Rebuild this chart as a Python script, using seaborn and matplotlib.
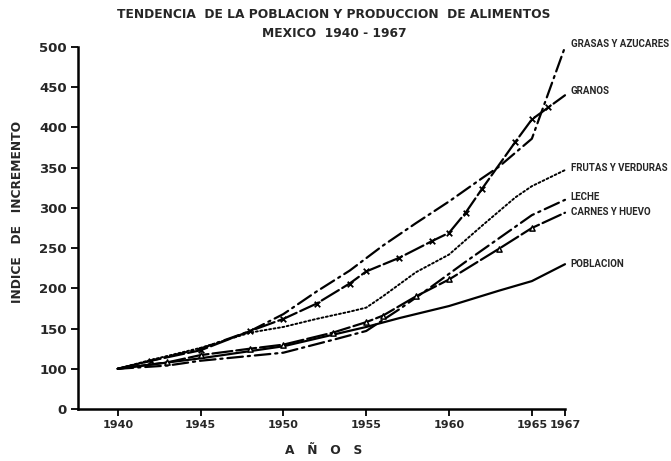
import matplotlib
matplotlib.use("Agg")
import matplotlib.pyplot as plt
import seaborn as sns
import pandas as pd

# ---- data ----
years_grasas = [1940, 1942, 1945, 1948, 1950, 1952, 1954, 1956, 1958, 1960, 1962, 1963, 1965, 1967]
vals_grasas = [100, 110, 125, 147, 168, 196, 222, 253, 281, 308, 337, 351, 386, 500]

years_granos = [1940, 1942, 1945, 1948, 1950, 1952, 1954, 1955, 1957, 1959, 1960, 1961, 1962, 1964, 1965, 1966, 1967]
vals_granos = [100, 110, 123, 147, 162, 181, 206, 221, 238, 259, 269, 294, 324, 382, 410, 425, 440]

years_frutas = [1940, 1942, 1945, 1948, 1950, 1952, 1954, 1955, 1956, 1958, 1960, 1962, 1964, 1965, 1967]
vals_frutas = [100, 111, 126, 145, 152, 162, 171, 176, 190, 220, 242, 278, 313, 327, 347]

years_leche = [1940, 1943, 1945, 1948, 1950, 1953, 1955, 1957, 1959, 1961, 1963, 1965, 1967]
vals_leche = [100, 104, 110, 116, 120, 136, 147, 174, 203, 233, 262, 291, 310]

years_carnes = [1940, 1943, 1945, 1948, 1950, 1953, 1955, 1956, 1958, 1960, 1963, 1965, 1967]
vals_carnes = [100, 108, 117, 125, 130, 145, 158, 166, 190, 211, 249, 275, 294]

years_pob = [1940, 1945, 1950, 1955, 1957, 1960, 1963, 1965, 1967]
vals_pob = [100, 113, 128, 152, 163, 178, 197, 209, 230]

series_names = ["GRASAS Y AZUCARES", "GRANOS", "FRUTAS Y VERDURAS", "LECHE", "CARNES Y HUEVO", "POBLACION"]
label_values = [504, 445, 349, 314, 295, 230]

x_ticks = [1940, 1945, 1950, 1955, 1960, 1965, 1967]
y_ticks = [50, 100, 150, 200, 250, 300, 350, 400, 450, 500]
y_tick_labels = ["0", "100", "150", "200", "250", "300", "350", "400", "450", "500"]

title_1 = "TENDENCIA  DE LA POBLACION Y PRODUCCION  DE ALIMENTOS"
title_2 = "MEXICO  1940 - 1967"
y_label = "INDICE   DE   INCREMENTO"
x_label = "A   Ñ   O   S"

# ---- styling ----
sns.set_style("ticks")
plt.rcParams["font.family"] = ["DejaVu Sans"]

fig = plt.figure(figsize=(6.71, 4.61), dpi=100)
W, H = 671, 461
ax = fig.add_axes([78 / W, 1 - 409 / H, (565 - 78) / W, (409 - 47) / H])

lw = 1.6
dashdot = (0, (7, 2.2, 1, 2.2))
longdash = (0, (9, 1.8))
line_styles = [dashdot, longdash, (0, (1, 1.3)), dashdot, longdash, "-"]
line_widths = [lw, lw, 1.4, lw, lw, lw]
all_years = [years_grasas, years_granos, years_frutas, years_leche, years_carnes, years_pob]
all_vals = [vals_grasas, vals_granos, vals_frutas, vals_leche, vals_carnes, vals_pob]

for xs, ys, ls, w in zip(all_years, all_vals, line_styles, line_widths):
    df = pd.DataFrame({"year": xs, "value": ys})
    sns.lineplot(data=df, x="year", y="value", ax=ax, color="black", linestyle=ls,
                 linewidth=w, dash_capstyle="round", clip_on=False)

# markers on granos (x) and carnes (triangles)
df_gr = pd.DataFrame({"year": years_granos[1:-1], "value": vals_granos[1:-1]})
sns.scatterplot(data=df_gr, x="year", y="value", ax=ax, marker="x", s=16,
                color="black", linewidth=1.3, zorder=5)
df_ca = pd.DataFrame({"year": years_carnes[1:-1], "value": vals_carnes[1:-1]})
sns.scatterplot(data=df_ca, x="year", y="value", ax=ax, marker="^", s=14,
                facecolor="white", edgecolor="black", linewidth=1.1, zorder=5)

for name, lv in zip(series_names, label_values):
    ax.text(1967.35, lv, name, ha="left", va="center", fontsize=7,
            fontweight="bold", family="Roboto", clip_on=False)

ax.set_xlim(1937.6, 1967)
ax.set_ylim(50, 500)
ax.set_xticks(x_ticks)
ax.set_xticklabels([str(t) for t in x_ticks], fontsize=8, fontweight="bold")
ax.set_yticks(y_ticks)
ax.set_yticklabels(y_tick_labels, fontsize=9.5, fontweight="bold")
ax.set_xlabel("")
ax.set_ylabel("")
for s in ["top", "right"]:
    ax.spines[s].set_visible(False)
for s in ["left", "bottom"]:
    ax.spines[s].set_linewidth(1.8)
    ax.spines[s].set_color("black")
ax.tick_params(axis="both", direction="out", length=5, width=1.3, color="black", pad=3)

fig.text(334 / W, 1 - 14 / H, title_1, ha="center", va="center", fontsize=8.8, fontweight="bold")
fig.text(334 / W, 1 - 33 / H, title_2, ha="center", va="center", fontsize=8.8, fontweight="bold")
fig.text(18 / W, 1 - 212 / H, y_label, ha="center", va="center", rotation=90, fontsize=8.8,
         fontweight="bold")
fig.text(324 / W, 1 - 450 / H, x_label, ha="center", va="center", fontsize=8.8, fontweight="bold")

fig.savefig("out.png", dpi=100, facecolor="white")
